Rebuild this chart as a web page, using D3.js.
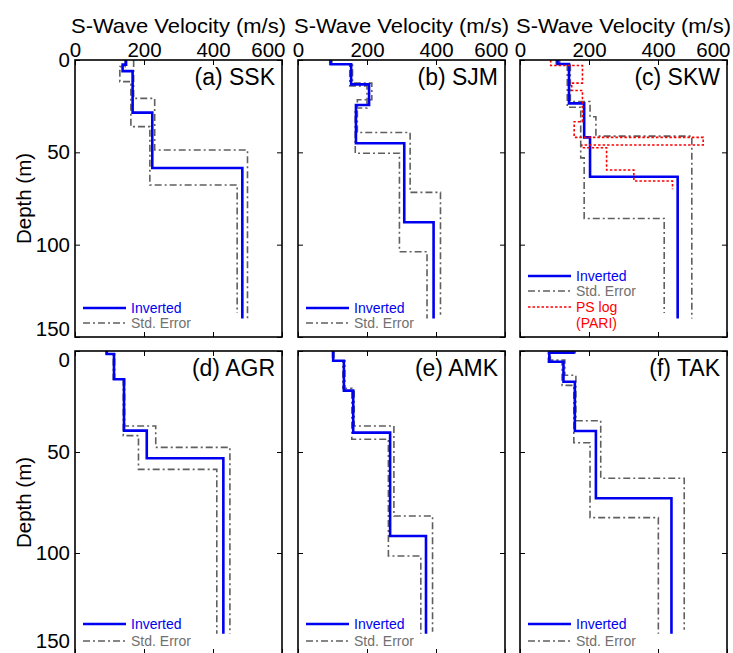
<!DOCTYPE html>
<html><head><meta charset="utf-8">
<script src="https://cdn.jsdelivr.net/npm/d3@7"></script>
<style>
body{margin:0;background:#fff}
text{font-family:Arial,"Liberation Sans",sans-serif}
</style></head>
<body><svg id="chart" width="733" height="653"></svg>
<script>
// ---------- data ----------
const xTickValues = [0, 200, 400, 600];
const yTickValues = [0, 50, 100, 150];
const panelLabels = ["(a) SSK", "(b) SJM", "(c) SKW", "(d) AGR", "(e) AMK", "(f) TAK"];
const xTitle = "S-Wave Velocity (m/s)";
const yTitle = "Depth (m)";

// (a) SSK  : layer boundary depths (m) and layer velocities (m/s)
const sskInvDepth = [0, 2.5, 6, 28.5, 58.5, 140];
const sskInvVel   = [148, 138, 167, 224, 485];
const sskUpDepth  = [0, 20.8, 48.7, 140];
const sskUpVel    = [170, 231, 500];
const sskLoDepth  = [0, 3.6, 11.7, 36.1, 67.7, 137];
const sskLoVel    = [145, 130, 162, 217, 470];

// (b) SJM
const sjmInvDepth = [0, 2.3, 13.2, 24.4, 45.1, 87.9, 140];
const sjmInvVel   = [95, 154, 206, 168, 308, 393];
const sjmUpDepth  = [0, 2.3, 12.5, 21.5, 39.3, 71.7, 138];
const sjmUpVel    = [98, 158, 214, 172, 325, 413];
const sjmLoDepth  = [0, 2.3, 14, 26, 50.5, 103.8, 140];
const sjmLoVel    = [92, 150, 200, 166, 294, 374];

// (c) SKW
const skwInvDepth = [0, 2.2, 23.5, 41.9, 63.2, 140];
const skwInvVel   = [109, 142, 186, 203, 457];
const skwUpDepth  = [0, 2.2, 22.5, 30.7, 41.2, 140];
const skwUpVel    = [115, 146, 203, 220, 498];
const skwLoDepth  = [0, 2.2, 25.6, 53, 85.8, 137];
const skwLoVel    = [105, 137, 176, 186, 418];
const skwPsDepth  = [0, 3, 12.5, 16.5, 33.4, 41.9, 46, 47.5, 59.6, 65.5, 70];
const skwPsVel    = [89, 181, 150, 181, 157, 531, 179, 251, 330, 442];

// (d) AGR
const agrInvDepth = [0, 1.5, 14, 39.4, 53.1, 140];
const agrInvVel   = [92, 113, 142, 208, 430];
const agrUpDepth  = [0, 1.5, 14, 37.1, 47.7, 140];
const agrUpVel    = [93, 115, 144, 234, 449];
const agrLoDepth  = [0, 1.5, 14, 41.9, 58.6, 140];
const agrLoVel    = [90, 111, 140, 184, 411];

// (e) AMK
const amkInvDepth = [0, 4.8, 19.6, 40.4, 91.6, 140];
const amkInvVel   = [102, 133, 160, 267, 371];
const amkUpDepth  = [0, 4.8, 19.6, 37.1, 81.7, 139];
const amkUpVel    = [104, 136, 163, 278, 390];
const amkLoDepth  = [0, 4.8, 18.5, 43.7, 101.5, 140];
const amkLoVel    = [100, 130, 156, 262, 356];

// (f) TAK
const takInvDepth = [0, 0.8, 5.3, 15.2, 39.6, 72.9, 140];
const takInvVel   = [155, 85, 126, 159, 220, 439];
const takUpDepth  = [0, 0.8, 4.5, 12, 34.5, 63, 138];
const takUpVel    = [160, 88, 130, 162, 234, 476];
const takLoDepth  = [0, 0.8, 5.5, 17, 45.4, 82.5, 140];
const takLoVel    = [150, 82, 122, 156, 203, 401];

// ---------- layout ----------
const svg = d3.select("#chart");
const colX = [75, 298, 520];
const panelW = 207;
const rows = [{y: 60, h: 277}, {y: 351, h: 303}];

const panels = [
  {inv:[sskInvDepth,sskInvVel], up:[sskUpDepth,sskUpVel], lo:[sskLoDepth,sskLoVel]},
  {inv:[sjmInvDepth,sjmInvVel], up:[sjmUpDepth,sjmUpVel], lo:[sjmLoDepth,sjmLoVel]},
  {inv:[skwInvDepth,skwInvVel], up:[skwUpDepth,skwUpVel], lo:[skwLoDepth,skwLoVel], ps:[skwPsDepth,skwPsVel]},
  {inv:[agrInvDepth,agrInvVel], up:[agrUpDepth,agrUpVel], lo:[agrLoDepth,agrLoVel]},
  {inv:[amkInvDepth,amkInvVel], up:[amkUpDepth,amkUpVel], lo:[amkLoDepth,amkLoVel]},
  {inv:[takInvDepth,takInvVel], up:[takUpDepth,takUpVel], lo:[takLoDepth,takLoVel]}
];

const BLUE = "#0000f0", GRAY = "#5f5f5f", RED = "#ff0000";
const tickFont = 20.5;

function stairs(depths, vels) {
  const pts = [];
  for (let i = 0; i < vels.length; i++) {
    pts.push([vels[i], depths[i]]);
    pts.push([vels[i], depths[i + 1]]);
  }
  return pts;
}

panels.forEach((p, i) => {
  const row = Math.floor(i / 3), col = i % 3;
  const r = rows[row];
  const x0 = colX[col], y0 = r.y, w = panelW, h = r.h;
  const g = svg.append("g").attr("transform", `translate(${x0},${y0})`);
  const x = d3.scaleLinear().domain([0, 600]).range([0, w]);
  const y = d3.scaleLinear().domain([0, 150]).range([0, h]);
  const line = d3.line().x(d => x(d[0])).y(d => y(d[1]));

  // clip
  const cid = "clip" + i;
  g.append("clipPath").attr("id", cid).append("rect").attr("width", w).attr("height", h);
  const plot = g.append("g").attr("clip-path", `url(#${cid})`);

  // std error
  [p.up, p.lo].forEach(s => {
    plot.append("path").datum(stairs(s[0], s[1])).attr("d", line)
      .attr("fill", "none").attr("stroke", GRAY).attr("stroke-width", 1.6)
      .attr("stroke-dasharray", "7,3,2,3");
  });
  // inverted
  plot.append("path").datum(stairs(p.inv[0], p.inv[1])).attr("d", line)
    .attr("fill", "none").attr("stroke", BLUE).attr("stroke-width", 2.6);
  // PS log
  if (p.ps) {
    plot.append("path").datum(stairs(p.ps[0], p.ps[1])).attr("d", line)
      .attr("fill", "none").attr("stroke", RED).attr("stroke-width", 1.6)
      .attr("stroke-dasharray", "2.5,2");
  }

  // axes (ticks pointing inward)
  const topAx = d3.axisTop(x).tickValues(xTickValues).tickSizeInner(-5).tickSizeOuter(0).tickPadding(3)
    .tickFormat(row === 0 ? d3.format("d") : "");
  const botAx = d3.axisBottom(x).tickValues(xTickValues).tickSizeInner(-5).tickSizeOuter(0).tickFormat("");
  const leftAx = d3.axisLeft(y).tickValues(yTickValues).tickSizeInner(-5).tickSizeOuter(0).tickPadding(5)
    .tickFormat(col === 0 ? d3.format("d") : "");
  const rightAx = d3.axisRight(y).tickValues(yTickValues).tickSizeInner(-5).tickSizeOuter(0).tickFormat("");

  const gt = g.append("g").call(topAx);
  g.append("g").attr("transform", `translate(0,${h})`).call(botAx);
  const gl = g.append("g").call(leftAx);
  g.append("g").attr("transform", `translate(${w},0)`).call(rightAx);

  [gt, gl].forEach(a => a.selectAll("text").attr("font-size", tickFont).attr("fill", "#000")
    .attr("font-family", "Arial, 'Liberation Sans', sans-serif"));
  g.selectAll(".domain").remove();
  g.selectAll(".tick line").attr("stroke", "#000").attr("stroke-width", 1);

  if (row === 0) {
    gt.selectAll(".tick").filter(d => d === 600).select("text").attr("text-anchor", "end").attr("x", 3);
  }
  if (col === 0) {
    gl.selectAll(".tick").filter(d => d === 150).select("text").attr("dy", row === 0 ? "-0.05em" : "-0.32em");
    if (row === 1) gl.selectAll(".tick").filter(d => d === 0).select("text").attr("dy", "0.75em");
    // y title
    svg.append("text").attr("transform", `translate(31,${y0 + h / 2}) rotate(-90)`)
      .attr("text-anchor", "middle").attr("font-size", 20.5).text(yTitle);
  }

  // frame
  g.append("rect").attr("width", w).attr("height", h).attr("fill", "none")
    .attr("stroke", "#000").attr("stroke-width", 1.6);

  // x title
  if (row === 0) {
    svg.append("text").attr("x", x0 + w / 2).attr("y", 33).attr("text-anchor", "middle")
      .attr("font-size", 21).attr("textLength", 215).attr("lengthAdjust", "spacingAndGlyphs").text(xTitle);
  }

  // panel label
  g.append("text").attr("x", w - 7).attr("y", 25).attr("text-anchor", "end")
    .attr("font-size", 23).text(panelLabels[i]);

  // legend
  const items = [{t: "Inverted", c: BLUE, dash: null, sw: 2.6},
                 {t: "Std. Error", c: "#707070", lc: GRAY, dash: "7,3,2,3", sw: 1.6}];
  if (p.ps) items.push({t: "PS log", c: RED, dash: "2.5,2", sw: 1.6});
  const bottomOffsets = p.ps ? [61, 46, 30] : (row === 0 ? [29, 14] : [30, 13]);
  items.forEach((it, k) => {
    const ly = h - bottomOffsets[k];
    g.append("line").attr("x1", 8).attr("x2", 51).attr("y1", ly).attr("y2", ly)
      .attr("stroke", it.lc || it.c).attr("stroke-width", it.sw)
      .attr("stroke-dasharray", it.dash);
    g.append("text").attr("x", 56).attr("y", ly).attr("dy", "0.36em")
      .attr("font-size", 14).attr("fill", it.c).text(it.t);
  });
  if (p.ps) {
    g.append("text").attr("x", 56).attr("y", h - 14).attr("dy", "0.36em")
      .attr("font-size", 14).attr("fill", RED).text("(PARI)");
  }
});
</script>
</body></html>
